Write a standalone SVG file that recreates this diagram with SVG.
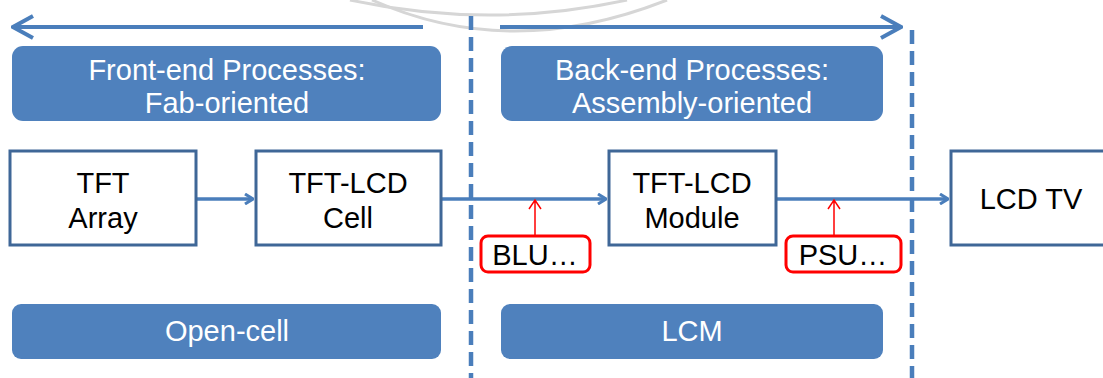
<svg xmlns="http://www.w3.org/2000/svg" width="1103" height="378" viewBox="0 0 1103 378">
<style>
.band{fill:#4f81bd;}
.bt{fill:#fff;font-family:"Liberation Sans",Arial,sans-serif;font-size:29px;text-anchor:middle;}
.box{fill:#fff;stroke:#3f6797;stroke-width:3;}
.t{fill:#000;font-family:"Liberation Sans",Arial,sans-serif;font-size:29px;text-anchor:middle;}
.red{fill:#fff;stroke:#ff0000;stroke-width:3;}
.flow{stroke:#4a7ebb;stroke-width:3.5;fill:none;}
.big{stroke:#4a7ebb;stroke-width:4;fill:none;}
.dash{stroke:#4a7ebb;stroke-width:4.5;stroke-dasharray:14 7;fill:none;}
.rl{stroke:#ff0000;stroke-width:1.5;fill:none;}
.wm{stroke:#d6d6d6;stroke-width:3;fill:none;}
</style>
<defs>
<marker id="ah" markerWidth="10" markerHeight="12" refX="9" refY="6" orient="auto" markerUnits="userSpaceOnUse">
<path d="M1,1 L9,6 L1,11" fill="none" stroke="#4a7ebb" stroke-width="3"/>
</marker>
<marker id="ahb" markerWidth="24" markerHeight="26" refX="22" refY="13" orient="auto" markerUnits="userSpaceOnUse">
<path d="M2,2 L22,13 L2,24" fill="none" stroke="#4a7ebb" stroke-width="4"/>
</marker>
</defs>
<rect width="1103" height="378" fill="#fff"/>
<g id="watermark">
<path class="wm" d="M350,0 Q490,30 627,0"/>
<path class="wm" d="M372,0 Q510,62 667,0"/>
</g>
<g id="connectors">
<line class="dash" x1="471" y1="16" x2="471" y2="378"/>
<line class="dash" x1="912" y1="30" x2="912" y2="378"/>
<line class="big" x1="423" y1="27" x2="13" y2="27" marker-end="url(#ahb)"/>
<line class="big" x1="500" y1="27" x2="901" y2="27" marker-end="url(#ahb)"/>
<line class="flow" x1="196" y1="199" x2="253" y2="199" marker-end="url(#ah)"/>
<line class="flow" x1="441" y1="199" x2="606" y2="199" marker-end="url(#ah)"/>
<line class="flow" x1="776" y1="199" x2="948" y2="199" marker-end="url(#ah)"/>
<path class="rl" d="M535,236 L535,201 M529,209 L535,200 L541,209"/>
<path class="rl" d="M834,236 L834,201 M828,209 L834,200 L840,209"/>
</g>
<g id="front-end">
<rect class="band" x="12" y="46" width="429" height="75" rx="11"/>
<text class="bt" x="227" y="80">Front-end Processes:</text>
<text class="bt" x="227" y="113">Fab-oriented</text>
</g>
<g id="back-end">
<rect class="band" x="501" y="46" width="382" height="75" rx="11"/>
<text class="bt" x="692" y="80">Back-end Processes:</text>
<text class="bt" x="692" y="113">Assembly-oriented</text>
</g>
<g id="tft-array">
<rect class="box" x="10" y="151" width="186" height="94"/>
<text class="t" x="103" y="193">TFT</text>
<text class="t" x="103" y="228">Array</text>
</g>
<g id="tft-lcd-cell">
<rect class="box" x="256" y="151" width="185" height="94"/>
<text class="t" x="348" y="193">TFT-LCD</text>
<text class="t" x="348" y="228">Cell</text>
</g>
<g id="tft-lcd-module">
<rect class="box" x="609" y="151" width="167" height="94"/>
<text class="t" x="692" y="193">TFT-LCD</text>
<text class="t" x="692" y="228">Module</text>
</g>
<g id="lcd-tv">
<rect class="box" x="951" y="151" width="160" height="94"/>
<text class="t" x="1031" y="209">LCD TV</text>
</g>
<g id="blu">
<rect class="red" x="481" y="236" width="109" height="36" rx="7"/>
<text class="t" x="535" y="265">BLU…</text>
</g>
<g id="psu">
<rect class="red" x="786" y="236" width="115" height="36" rx="7"/>
<text class="t" x="843" y="265">PSU…</text>
</g>
<g id="open-cell">
<rect class="band" x="12" y="304" width="429" height="55" rx="9"/>
<text class="bt" x="227" y="341">Open-cell</text>
</g>
<g id="lcm">
<rect class="band" x="501" y="304" width="382" height="55" rx="9"/>
<text class="bt" x="692" y="341">LCM</text>
</g>
</svg>
